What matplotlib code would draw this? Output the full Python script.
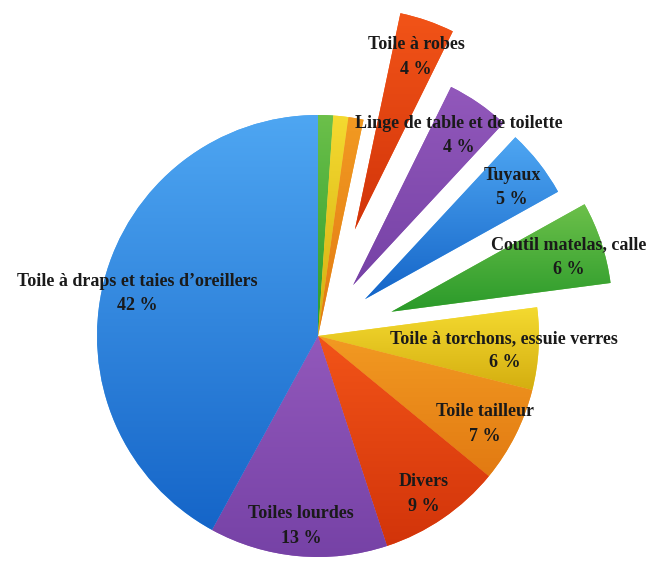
import numpy as np
import matplotlib.pyplot as plt
from matplotlib.colors import to_rgb

# données (sens horaire depuis le haut)
labels = ["", "", "", "Toile à robes", "Linge de table et de toilette", "Tuyaux",
          "Coutil matelas, calle", "Toile à torchons, essuie verres", "Toile tailleur",
          "Divers", "Toiles lourdes", "Toile à draps et taies d’oreillers"]
values = [1.1, 1.1, 1.1, 4.0, 4.6, 5.0, 6.0, 6.0, 7.0, 9.0, 13.0, 42.0]
pct_text = [None, None, None, 4, 4, 5, 6, 6, 7, 9, 13, 42]

# style
explode = [0, 0, 0, 0.51, 0.28, 0.27, 0.35, 0, 0, 0, 0, 0]
top_colors = ["#6cc04a", "#f4da30", "#f29a22", "#f25418", "#9258bb", "#4ea6f2",
              "#6cc04a", "#f4da30", "#f29a22", "#f25418", "#9258bb", "#4ea6f2"]
bottom_colors = ["#2a9a2a", "#d4ae10", "#e27a12", "#d2340a", "#7642a6", "#1565c8",
                 "#2a9a2a", "#d4ae10", "#e27a12", "#d2340a", "#7642a6", "#1565c8"]

plt.rcParams['font.family'] = ['Liberation Serif', 'DejaVu Serif']

fig = plt.figure(figsize=(6.48, 5.63), dpi=100)
ax = fig.add_axes([0, 0, 1, 1])

wedges, _ = ax.pie(values, explode=explode, startangle=90, counterclock=False,
                   colors=top_colors, radius=1.0, center=(0, 0))

# dégradé vertical dans chaque part
for w, c1, c2 in zip(wedges, top_colors, bottom_colors):
    v = w.get_path().vertices
    x0, x1 = v[:, 0].min(), v[:, 0].max()
    y0, y1 = v[:, 1].min(), v[:, 1].max()
    t = np.linspace(0, 1, 128)[:, None]
    grad = (1 - t) * np.array(to_rgb(c1)) + t * np.array(to_rgb(c2))
    im = ax.imshow(grad[:, None, :], extent=(x0, x1, y0, y1), origin='upper',
                   aspect='auto', interpolation='bilinear', zorder=2)
    im.set_clip_path(w)
    w.set_edgecolor('none')

for w, lab, p in zip(wedges, labels, pct_text):
    if p is None:
        continue
    mid = np.deg2rad((w.theta1 + w.theta2) / 2)
    cx, cy = w.center
    d = 0.845 * w.r
    ax.text(cx + d * np.cos(mid), cy + d * np.sin(mid) - 0.018, f"{lab}\n{p} %",
            ha='center', va='center', fontsize=13, fontweight='bold',
            color='#1a1a1a', linespacing=1.55, zorder=5)

ax.set_xlim(-318 / 221, (648 - 318) / 221)
ax.set_ylim(-(563 - 336) / 221, 336 / 221)
ax.set_aspect('equal')
ax.axis('off')

fig.savefig('out.png', dpi=100)
